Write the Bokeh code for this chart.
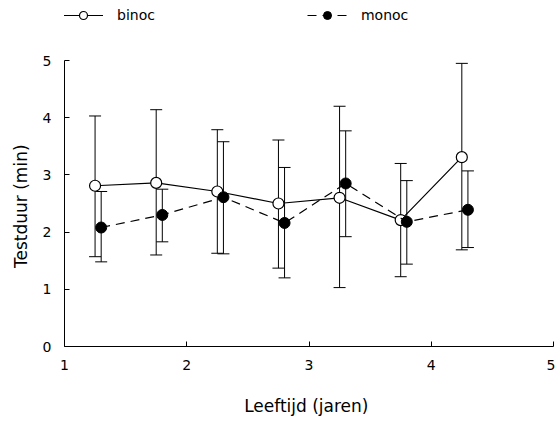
from bokeh.plotting import figure
from bokeh.models import ColumnDataSource, Whisker, TeeHead, Legend, LegendItem, FixedTicker
from bokeh.layouts import column
from bokeh.embed import file_html
from bokeh.resources import INLINE

# data
binoc_x = [1.25, 1.75, 2.25, 2.75, 3.25, 3.75, 4.25]
binoc_y = [2.81, 2.86, 2.71, 2.50, 2.60, 2.21, 3.31]
binoc_hi = [4.03, 4.14, 3.79, 3.61, 4.20, 3.20, 4.95]
binoc_lo = [1.57, 1.60, 1.63, 1.37, 1.03, 1.22, 1.69]

monoc_x = [1.30, 1.80, 2.30, 2.80, 3.30, 3.80, 4.30]
monoc_y = [2.08, 2.30, 2.61, 2.16, 2.85, 2.18, 2.39]
monoc_hi = [2.71, 2.75, 3.58, 3.13, 3.77, 2.90, 3.07]
monoc_lo = [1.48, 1.83, 1.62, 1.20, 1.92, 1.44, 1.73]

x_ticks = [1, 2, 3, 4, 5]
y_ticks = [0, 1, 2, 3, 4, 5]
series_labels = ["binoc", "monoc"]

FONT = "DejaVu Sans"
DASH = "9 6"

p = figure(width=555, height=390, x_range=(1, 5), y_range=(0, 5),
           output_backend="svg", toolbar_location=None,
           min_border_left=64, min_border_top=30, min_border_right=2, min_border_bottom=74)
p.outline_line_color = None
p.grid.visible = False

bsrc = ColumnDataSource(dict(x=binoc_x, y=binoc_y, hi=binoc_hi, lo=binoc_lo))
msrc = ColumnDataSource(dict(x=monoc_x, y=monoc_y, hi=monoc_hi, lo=monoc_lo))

for src in (bsrc, msrc):
    w = Whisker(source=src, base="x", upper="hi", lower="lo", dimension="height",
                line_color="black", line_width=1,
                upper_head=TeeHead(size=12, line_color="black", line_width=1),
                lower_head=TeeHead(size=12, line_color="black", line_width=1))
    p.add_layout(w)

p.line("x", "y", source=bsrc, line_color="black", line_width=1.2)
p.scatter("x", "y", source=bsrc, size=11, marker="circle", fill_color="white",
          line_color="black", line_width=1.2)
p.line("x", "y", source=msrc, line_color="black", line_width=1.2, line_dash=DASH)
p.scatter("x", "y", source=msrc, size=11, marker="circle", fill_color="black",
          line_color="black")

p.xaxis.ticker = FixedTicker(ticks=x_ticks)
p.yaxis.ticker = FixedTicker(ticks=y_ticks)
for ax in (p.xaxis, p.yaxis):
    ax.major_tick_in = 5
    ax.major_tick_out = 0
    ax.minor_tick_in = 0
    ax.minor_tick_out = 0
    ax.axis_line_color = "black"
    ax.axis_line_width = 1
    ax.major_label_text_font = FONT
    ax.major_label_text_font_size = "14px"
    ax.major_label_text_color = "black"
    ax.axis_label_text_font = FONT
    ax.axis_label_text_font_size = "17px"
    ax.axis_label_text_font_style = "normal"
    ax.axis_label_text_color = "black"

p.xaxis.axis_label = "Leeftijd  (jaren)"
p.yaxis.axis_label = "Testduur  (min)"
p.xaxis.major_label_standoff = 13
p.xaxis.axis_label_standoff = 23
p.yaxis.major_label_standoff = 13
p.yaxis.axis_label_standoff = 9

# legend strip above the plot (renderers draw the series outside this strip's ranges)
lg = figure(width=555, height=30, x_range=(10, 11), y_range=(10, 11),
            output_backend="svg", toolbar_location=None,
            x_axis_type=None, y_axis_type=None,
            min_border_left=0, min_border_right=0, min_border_top=0, min_border_bottom=0)
lg.outline_line_color = None
lg.grid.visible = False
lb = lg.line("x", "y", source=bsrc, line_color="black", line_width=1.2)
lbc = lg.scatter("x", "y", source=bsrc, size=8, marker="circle", fill_color="white",
                 line_color="black", line_width=1.2)
lm = lg.line("x", "y", source=msrc, line_color="black", line_width=1.2, line_dash=DASH)
lmc = lg.scatter("x", "y", source=msrc, size=8, marker="circle", fill_color="black",
                 line_color="black")
legend = Legend(items=[LegendItem(label=series_labels[0], renderers=[lb, lbc]),
                       LegendItem(label=series_labels[1], renderers=[lm, lmc])],
                orientation="horizontal", location=(-1, 5),
                spacing=152, glyph_width=40, label_standoff=14,
                label_text_font=FONT, label_text_font_size="14px", label_text_color="black",
                border_line_color=None, background_fill_alpha=0, padding=0, margin=0)
lg.add_layout(legend, "center")

layout = column(lg, p, spacing=0)
open("out.html", "w").write(file_html(layout, INLINE))
